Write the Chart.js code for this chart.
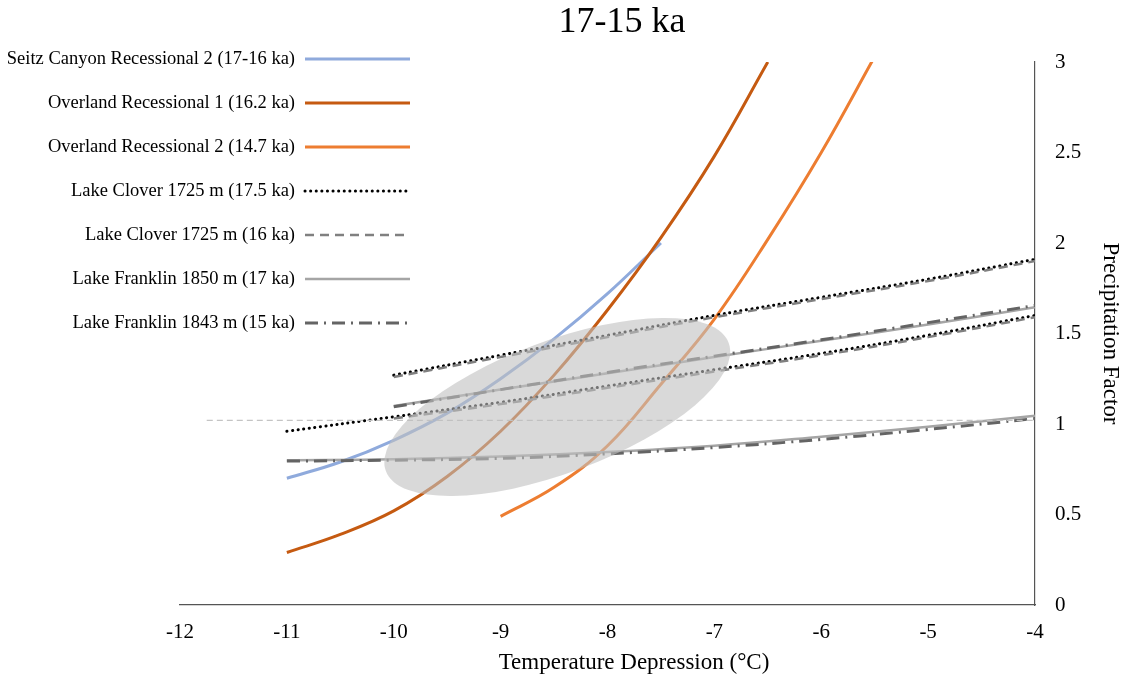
<!DOCTYPE html>
<html>
<head>
<meta charset="utf-8">
<title>17-15 ka</title>
<script src="https://cdn.jsdelivr.net/npm/chart.js@4.4.1/dist/chart.umd.min.js"></script>
<style>
  html, body { margin: 0; padding: 0; background: #fff; }
</style>
</head>
<body>
<canvas id="chart" width="1124" height="681"></canvas>
<script>
// temperature depression (°C) vs precipitation factor
const xTicks = [-12, -11, -10, -9, -8, -7, -6, -5, -4];
const yTicks = [0, 0.5, 1, 1.5, 2, 2.5, 3];

const seitzX = [-11, -10.5, -10, -9.5, -9, -8.5, -8, -7.5];
const seitzY = [0.70, 0.79, 0.91, 1.06, 1.25, 1.47, 1.72, 2.00];

const overland1X = [-11, -10.5, -10, -9.5, -9, -8.5, -8, -7.5, -7, -6.5];
const overland1Y = [0.29, 0.39, 0.52, 0.71, 0.96, 1.27, 1.63, 2.03, 2.48, 3.00];

const overland2X = [-9, -8.5, -8, -7.5, -7, -6.5, -6, -5.5];
const overland2Y = [0.49, 0.65, 0.88, 1.22, 1.58, 2.02, 2.50, 3.03];

// lake curves come in pairs (upper / lower branch)
const clover175UpX = [-10, -9, -8, -7, -6, -5, -4];
const clover175UpY = [1.27, 1.38, 1.49, 1.60, 1.70, 1.80, 1.91];
const clover175LoX = [-11, -10, -9, -8, -7, -6, -5, -4];
const clover175LoY = [0.96, 1.04, 1.12, 1.21, 1.30, 1.39, 1.49, 1.60];

const clover16UpX = [-10, -9, -8, -7, -6, -5, -4];
const clover16UpY = [1.26, 1.37, 1.48, 1.59, 1.69, 1.79, 1.90];
const clover16LoX = [-10, -9, -8, -7, -6, -5, -4];
const clover16LoY = [1.03, 1.11, 1.20, 1.29, 1.38, 1.48, 1.59];

const franklin1850UpX = [-10, -9, -8, -7, -6, -5, -4];
const franklin1850UpY = [1.10, 1.19, 1.28, 1.37, 1.46, 1.55, 1.645];
const franklin1850LoX = [-11, -10, -9, -8, -7, -6, -5, -4];
const franklin1850LoY = [0.80, 0.805, 0.82, 0.845, 0.88, 0.93, 0.985, 1.045];

const franklin1843UpX = [-10, -9, -8, -7, -6, -5, -4];
const franklin1843UpY = [1.095, 1.19, 1.285, 1.375, 1.465, 1.56, 1.655];
const franklin1843LoX = [-11, -10, -9, -8, -7, -6, -5, -4];
const franklin1843LoY = [0.795, 0.80, 0.81, 0.835, 0.87, 0.915, 0.97, 1.03];

const refLineX = [-11.75, -4];
const refLineY = [1.02, 1.02];

const SERIF = "'Liberation Serif', 'Times New Roman', serif";

function pts(xs, ys) {
    return xs.map((x, i) => ({ x: x, y: ys[i] }));
}

const styles = {
    seitz:   { borderColor: '#8FAADC', borderWidth: 3 },
    over1:   { borderColor: '#C55A11', borderWidth: 3 },
    over2:   { borderColor: '#ED7D31', borderWidth: 3 },
    dotted:  { borderColor: '#000000', borderWidth: 3, borderDash: [0.1, 5.5], borderCapStyle: 'round' },
    dashed:  { borderColor: '#808080', borderWidth: 2.5, borderDash: [9, 6] },
    solid:   { borderColor: '#A5A5A5', borderWidth: 2.5 },
    dashDot: { borderColor: '#646464', borderWidth: 3, borderDash: [13, 6, 2, 6] },
    ref:     { borderColor: '#C4C4C4', borderWidth: 1.2, borderDash: [6, 4] }
};

const series = [
    ['Seitz Canyon Recessional 2 (17-16 ka)', seitzX, seitzY, styles.seitz, true],
    ['Overland Recessional 1 (16.2 ka)', overland1X, overland1Y, styles.over1, true],
    ['Overland Recessional 2 (14.7 ka)', overland2X, overland2Y, styles.over2, true],
    ['Lake Clover 1725 m (17.5 ka)', clover175UpX, clover175UpY, styles.dotted, true],
    ['Lake Clover 1725 m (17.5 ka)', clover175LoX, clover175LoY, styles.dotted, false],
    ['Lake Clover 1725 m (16 ka)', clover16UpX, clover16UpY, styles.dashed, true],
    ['Lake Clover 1725 m (16 ka)', clover16LoX, clover16LoY, styles.dashed, false],
    ['Lake Franklin 1850 m (17 ka)', franklin1850UpX, franklin1850UpY, styles.solid, true],
    ['Lake Franklin 1850 m (17 ka)', franklin1850LoX, franklin1850LoY, styles.solid, false],
    ['Lake Franklin 1843 m (15 ka)', franklin1843UpX, franklin1843UpY, styles.dashDot, true],
    ['Lake Franklin 1843 m (15 ka)', franklin1843LoX, franklin1843LoY, styles.dashDot, false],
    ['', refLineX, refLineY, styles.ref, false]
];

const datasets = series.map(([label, xs, ys, st, inLegend], i) => Object.assign({
    label: label,
    data: pts(xs, ys),
    inLegend: inLegend,
    pointRadius: 0,
    fill: false,
    tension: 0.4,
    order: series.length - i   // later series sit on top
}, st));

// shaded overlap zone, drawn semi-transparent over the curves
const zone = { cx: -8.47, cy: 1.094, rx: 183, ry: 66, angle: -20.5 };

const zonePlugin = {
    id: 'zone',
    afterDatasetsDraw(chart) {
        const { ctx, scales: { x, y } } = chart;
        ctx.save();
        ctx.beginPath();
        ctx.ellipse(x.getPixelForValue(zone.cx), y.getPixelForValue(zone.cy),
            zone.rx, zone.ry, zone.angle * Math.PI / 180, 0, Math.PI * 2);
        ctx.fillStyle = 'rgba(191, 191, 191, 0.6)';
        ctx.fill();
        ctx.restore();
    }
};

const textPlugin = {
    id: 'textLayer',
    afterDraw(chart) {
        const ctx = chart.ctx;
        ctx.save();
        ctx.fillStyle = '#000';
        ctx.textBaseline = 'middle';
        ctx.textAlign = 'center';

        ctx.font = '36px ' + SERIF;
        ctx.fillText('17-15 ka', 622, 23);

        ctx.font = '23px ' + SERIF;
        ctx.fillText('Temperature Depression (°C)', 634, 663);

        // legend: label on the left, line sample on the right
        ctx.font = '18.5px ' + SERIF;
        ctx.textAlign = 'right';
        const items = chart.data.datasets.filter(d => d.inLegend);
        items.forEach((d, i) => {
            const yy = 59 + i * 44;
            ctx.fillText(d.label, 295, yy);
            ctx.save();
            ctx.strokeStyle = d.borderColor;
            ctx.lineWidth = d.borderWidth;
            ctx.lineCap = d.borderCapStyle || 'butt';
            ctx.setLineDash(d.borderDash || []);
            ctx.beginPath();
            ctx.moveTo(305, yy);
            ctx.lineTo(410, yy);
            ctx.stroke();
            ctx.restore();
        });
        ctx.restore();
    }
};

new Chart(document.getElementById('chart'), {
    type: 'line',
    data: { datasets: datasets },
    options: {
        responsive: false,
        animation: false,
        layout: { padding: { left: 180, top: 62, right: 0, bottom: 0 } },
        plugins: {
            legend: { display: false },
            tooltip: { enabled: false }
        },
        scales: {
            x: {
                type: 'linear',
                min: -12,
                max: -4,
                afterFit: s => { s.height = 76; },
                afterBuildTicks: s => { s.ticks = xTicks.map(v => ({ value: v })); },
                grid: { display: false, drawTicks: false },
                border: { display: true, color: '#555', width: 1.2 },
                ticks: { color: '#000', padding: 15, font: { family: SERIF, size: 21 } }
            },
            y: {
                type: 'linear',
                position: 'right',
                min: 0,
                max: 3,
                afterFit: s => { s.width = 89; },
                afterBuildTicks: s => { s.ticks = yTicks.map(v => ({ value: v })); },
                grid: { display: false, drawTicks: false },
                border: { display: true, color: '#555', width: 1.2 },
                ticks: {
                    color: '#000',
                    padding: 20,
                    font: { family: SERIF, size: 21 },
                    callback: v => String(v)
                },
                title: {
                    display: true,
                    text: 'Precipitation Factor',
                    color: '#000',
                    font: { family: SERIF, size: 23 },
                    padding: { top: 0, bottom: 0 }
                }
            }
        }
    },
    plugins: [zonePlugin, textPlugin]
});
</script>
</body>
</html>
